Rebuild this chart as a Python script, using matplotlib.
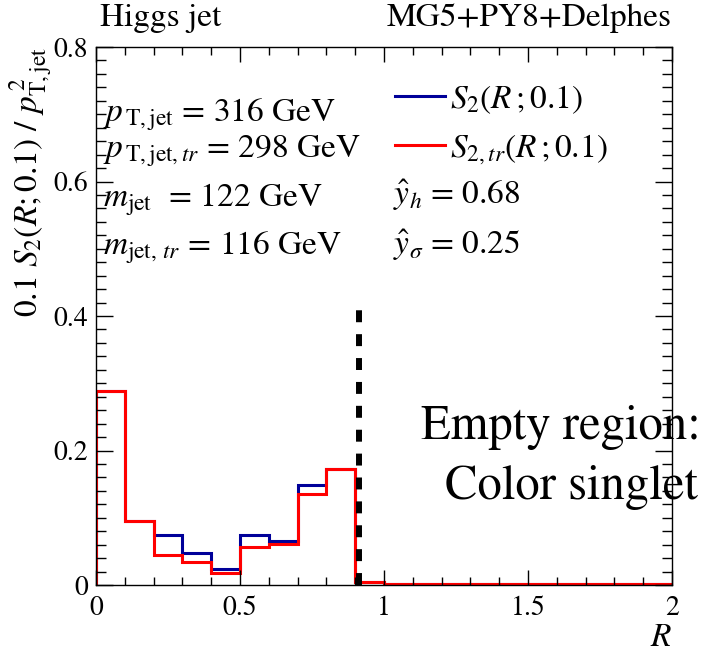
import matplotlib
matplotlib.use("Agg")
import matplotlib.pyplot as plt
import numpy as np
from matplotlib.ticker import MultipleLocator
from matplotlib.lines import Line2D

plt.rcParams['font.family'] = ['STIXGeneral', 'Liberation Serif', 'DejaVu Serif']
plt.rcParams['mathtext.fontset'] = 'stix'

# Data
bin_edges = [0.0, 0.1, 0.2, 0.3, 0.4, 0.5, 0.6, 0.7, 0.8, 0.9, 1.0,
             1.1, 1.2, 1.3, 1.4, 1.5, 1.6, 1.7, 1.8, 1.9, 2.0]
s2_full = [0.288, 0.095, 0.075, 0.048, 0.024, 0.075, 0.066, 0.149, 0.172, 0.005,
           0.001, 0.001, 0.001, 0.001, 0.001, 0.001, 0.001, 0.001, 0.001, 0.001]
s2_trim = [0.288, 0.095, 0.045, 0.034, 0.018, 0.056, 0.061, 0.135, 0.172, 0.005,
           0.001, 0.001, 0.001, 0.001, 0.001, 0.001, 0.001, 0.001, 0.001, 0.001]
cut_R = 0.914
cut_height = 0.41
info_left = [r"$p_{\,\mathrm{T,jet}}$ = 316 GeV",
             r"$p_{\,\mathrm{T,jet},tr}$ = 298 GeV",
             r"$m_{\mathrm{jet}}$  = 122 GeV",
             r"$m_{\mathrm{jet},\,tr}$ = 116 GeV"]
info_right = [r"$\hat{y}_h$ = 0.68", r"$\hat{y}_\sigma$ = 0.25"]
legend_labels = [r"$S_2(R\,;0.1)$", r"$S_{2,tr}(R\,;0.1)$"]

W, H = 704, 654
fig = plt.figure(figsize=(W/100, H/100), dpi=100)
ax = fig.add_axes([96/W, 1-585/H, (672-96)/W, (585-47)/H])

ax.stairs(s2_full, bin_edges, color='#000099', lw=2.2)
ax.stairs(s2_trim, bin_edges, color='#ff0000', lw=2.2)
ax.plot([cut_R, cut_R], [0, cut_height], color='black', lw=4.3,
        linestyle=(0, (2.0, 2.0)), solid_capstyle='butt', dash_capstyle='butt')

ax.set_xlim(0, 2)
ax.set_ylim(0, 0.8)
ax.xaxis.set_minor_locator(MultipleLocator(0.1))
ax.yaxis.set_minor_locator(MultipleLocator(0.02))
ax.set_xticks([0, 0.5, 1, 1.5, 2])
ax.set_xticklabels(['0', '0.5', '1', '1.5', '2'])
ax.set_yticks([0, 0.2, 0.4, 0.6, 0.8])
ax.set_yticklabels(['0', '0.2', '0.4', '0.6', '0.8'])
ax.tick_params(which='both', direction='in', top=True, right=True, labelsize=20, width=1)
ax.tick_params(axis='x', which='major', length=11, pad=8)
ax.tick_params(axis='x', which='minor', length=5.5)
ax.tick_params(axis='y', which='major', length=12, pad=6)
ax.tick_params(axis='y', which='minor', length=7)
for sp in ax.spines.values():
    sp.set_linewidth(1)

ax.set_xlabel(r"$R$", fontsize=24, loc='right', labelpad=2)
ax.set_ylabel(r"0.1 $S_2(R;0.1)$ / $p^{\,2}_{\mathrm{T,jet}}$", fontsize=24, loc='top', labelpad=-1)

fig.text(100/W, 1-18/H, "Higgs jet", fontsize=24, ha='left', va='center')
fig.text(672/W, 1-18/H, "MG5+PY8+Delphes", fontsize=24, ha='right', va='center')

ys = [0.875, 0.806, 0.717, 0.627]
for t, y in zip(info_left, ys):
    ax.text(0.012, y, t, transform=ax.transAxes, fontsize=24, ha='left', va='center')
for t, y in zip(info_right, [0.725, 0.632]):
    ax.text(0.516, y, t, transform=ax.transAxes, fontsize=24, ha='left', va='center')

handles = [Line2D([], [], color='#000099', lw=2.2), Line2D([], [], color='#ff0000', lw=2.2)]
ax.legend(handles, legend_labels, loc='upper left', bbox_to_anchor=(0.519, 0.933),
          frameon=False, fontsize=24, handlelength=1.5, handletextpad=0.15,
          labelspacing=0.5, borderaxespad=0, borderpad=0)

ax.text(1.05, 0.292, "Empty region:", transform=ax.transAxes, fontsize=35,
        ha='right', va='center', clip_on=False)
ax.text(1.045, 0.182, "Color singlet", transform=ax.transAxes, fontsize=35,
        ha='right', va='center', clip_on=False)

fig.savefig("out.png", dpi=100)
